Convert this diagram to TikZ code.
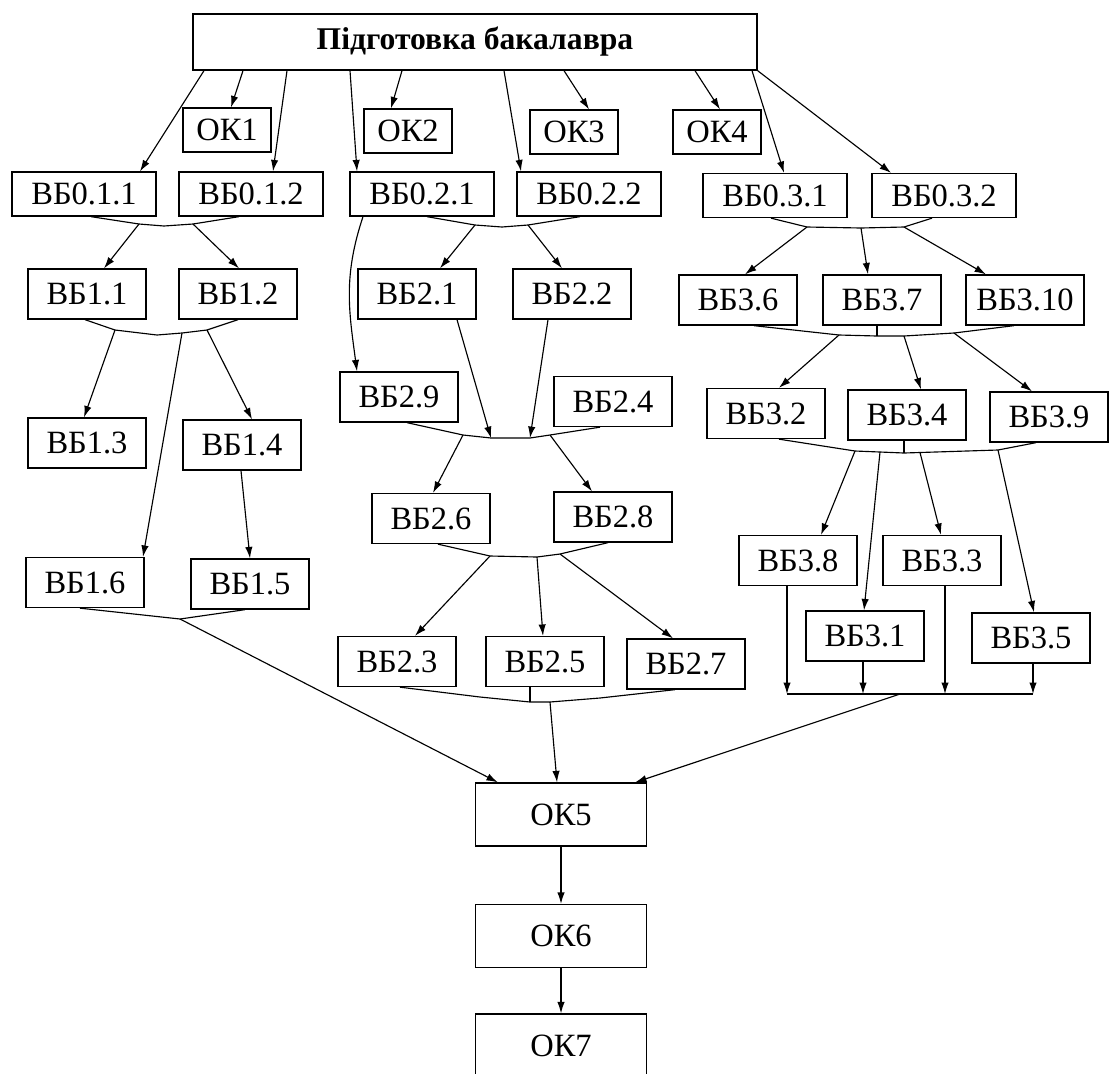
\documentclass[tikz,border=0pt]{standalone}
\usepackage{fontspec}
\setmainfont{Liberation Serif}
\usetikzlibrary{calc,arrows.meta}
\tikzset{
  blk/.style={draw, line width=0.75pt, inner sep=0pt, font=\fontsize{18.5}{20}\selectfont},
  vb/.style={blk, minimum width=2.36cm, minimum height=1cm},
  vbz/.style={blk, minimum width=2.88cm, minimum height=0.88cm},
  oks/.style={blk, minimum width=1.76cm, minimum height=0.88cm},
  okl/.style={blk, minimum width=3.42cm, minimum height=1.26cm},
  lnk/.style={line width=0.65pt, -{Latex[length=6.5pt,width=4.2pt]}},
  bar/.style={line width=0.65pt}
}

\begin{document}
\begin{tikzpicture}[x=0.02cm, y=-0.02cm]
\useasboundingbox (0,0) rectangle (1109,1073);
%%%%% START %%%%%
\node[blk, minimum width=11.28cm, minimum height=1.12cm, font=\bfseries\fontsize{18}{20}\selectfont] (top) at (475,42) {Підготовка бакалавра};

\node[oks] (ok1) at (227,130) {ОК1};
\node[oks] (ok2) at (408,131) {ОК2};
\node[oks] (ok3) at (574,132) {ОК3};
\node[oks] (ok4) at (717,132) {ОК4};

\node[vbz] (b011) at (84,194) {ВБ0.1.1};
\node[vbz] (b012) at (251,194) {ВБ0.1.2};
\node[vbz] (b021) at (422,194) {ВБ0.2.1};
\node[vbz] (b022) at (589,194) {ВБ0.2.2};
\node[vbz] (b031) at (775,195.5) {ВБ0.3.1};
\node[vbz] (b032) at (944,195.5) {ВБ0.3.2};

\node[vb] (b11) at (87,294) {ВБ1.1};
\node[vb] (b12) at (238,294) {ВБ1.2};
\node[vb] (b21) at (417,294) {ВБ2.1};
\node[vb] (b22) at (572,294) {ВБ2.2};
\node[vb] (b36) at (738,300) {ВБ3.6};
\node[vb] (b37) at (882,300) {ВБ3.7};
\node[vb] (b310) at (1025,300) {ВБ3.10};

\node[vb] (b29) at (399,397) {ВБ2.9};
\node[vb] (b24) at (613,401.5) {ВБ2.4};
\node[vb] (b32) at (766,413.5) {ВБ3.2};
\node[vb] (b34) at (907,415) {ВБ3.4};
\node[vb] (b39) at (1049,417) {ВБ3.9};
\node[vb] (b13) at (87,443) {ВБ1.3};
\node[vb] (b14) at (242,445) {ВБ1.4};

\node[vb] (b26) at (431,518.5) {ВБ2.6};
\node[vb] (b28) at (613,517) {ВБ2.8};
\node[vb] (b38) at (798,560.5) {ВБ3.8};
\node[vb] (b33) at (942,560.5) {ВБ3.3};
\node[vb] (b16) at (85,582.5) {ВБ1.6};
\node[vb] (b15) at (250,584) {ВБ1.5};
\node[vb] (b31) at (865,636) {ВБ3.1};
\node[vb] (b35) at (1031,638) {ВБ3.5};
\node[vb] (b23) at (397,661.5) {ВБ2.3};
\node[vb] (b25) at (545,661.5) {ВБ2.5};
\node[vb] (b27) at (686,664) {ВБ2.7};

\node[okl] (ok5) at (561,814.5) {ОК5};
\node[okl] (ok6) at (561,936) {ОК6};
\node[okl] (ok7) at (561,1045.5) {ОК7};

% from the top box
\draw[lnk] ($(top.south)+(-271,0)$) -- ($(b011.north)+(56,0)$);
\draw[lnk] ($(top.south)+(-232,0)$) -- ($(ok1.north)+(4,0)$);
\draw[lnk] ($(top.south)+(-188,0)$) -- ($(b012.north)+(22,0)$);
\draw[lnk] ($(top.south)+(-125,0)$) -- ($(b021.north)+(-65,0)$);
\draw[lnk] ($(top.south)+(-73,0)$) -- ($(ok2.north)+(-17,0)$);
\draw[lnk] ($(top.south)+(29,0)$) -- ($(b022.north)+(-68,0)$);
\draw[lnk] ($(top.south)+(89,0)$) -- ($(ok3.north)+(15,0)$);
\draw[lnk] ($(top.south)+(220,0)$) -- ($(ok4.north)+(3,0)$);
\draw[lnk] ($(top.south)+(277,0)$) -- ($(b031.north)+(9,0)$);
\draw[lnk] (top.south east) -- ($(b032.north)+(-53,0)$);

% block 1
\coordinate (j1a) at (139,224);
\coordinate (j1) at (164,226);
\coordinate (j1b) at (193,224);
\draw[bar] ($(b011.south)+(7,0)$) -- (j1a) -- (j1) -- (j1b) -- ($(b012.south)+(-12,0)$);
\draw[lnk] (j1a) -- ($(b11.north)+(17,0)$);
\draw[lnk] (j1b) -- ($(b12.north)+(1,0)$);

\coordinate (j6a) at (115,330);
\coordinate (j6) at (157,335);
\coordinate (j6b) at (182,333);
\coordinate (j6c) at (207,330);
\draw[bar] ($(b11.south)+(-2,0)$) -- (j6a) -- (j6) -- (j6b) -- (j6c) -- (b12.south);
\draw[lnk] (j6a) -- ($(b13.north)+(-3,0)$);
\draw[lnk] (j6b) -- ($(b16.north)+(58,0)$);
\draw[lnk] (j6c) -- ($(b14.north)+(10,0)$);
\draw[lnk] ($(b14.south)+(-1,0)$) -- (b15.north);

\coordinate (j7) at (180,619);
\draw[bar] ($(b16.south)+(-5,0)$) -- (j7) -- ($(b15.south)+(-5,0)$);
\draw[lnk] (j7) -- ($(ok5.north west)+(23,0)$);

% block 2
\coordinate (j2a) at (475,225);
\coordinate (j2) at (502,227);
\coordinate (j2b) at (528,225);
\draw[bar] ($(b021.south)+(5,0)$) -- (j2a) -- (j2) -- (j2b) -- ($(b022.south)+(-9,0)$);
\draw[lnk] (j2a) -- ($(b21.north)+(23,0)$);
\draw[lnk] (j2b) -- ($(b22.north)+(-10,0)$);
\draw[lnk] ($(b021.south)+(-59,0)$) .. controls +(-20,60) and +(-8,-60) .. ($(b29.north)+(-42,0)$);

\coordinate (j3a) at (463,435);
\coordinate (j3c) at (491,438);
\coordinate (j3d) at (530,438);
\coordinate (j3b) at (550,435);
\draw[bar] ($(b29.south)+(8,0)$) -- (j3a) -- (j3c) -- (j3d) -- (j3b) -- ($(b24.south)+(-13,0)$);
\draw[lnk] ($(b21.south)+(40,0)$) -- (j3c);
\draw[lnk] ($(b22.south)+(-24,0)$) -- (j3d);
\draw[lnk] (j3a) -- ($(b26.north)+(2,0)$);
\draw[lnk] (j3b) -- ($(b28.north)+(-21,0)$);

\coordinate (j4a) at (490,556);
\coordinate (j4b) at (537,557);
\coordinate (j4c) at (560,554);
\draw[bar] ($(b26.south)+(7,0)$) -- (j4a) -- (j4b) -- (j4c) -- ($(b28.south)+(-5,0)$);
\draw[lnk] (j4a) -- ($(b23.north)+(18,0)$);
\draw[lnk] (j4b) -- ($(b25.north)+(-2,0)$);
\draw[lnk] (j4c) -- ($(b27.north)+(-13,0)$);

\coordinate (j5a) at (480,697);
\coordinate (j5) at (530,702);
\coordinate (j5b) at (550,702);
\coordinate (j5c) at (600,698);
\draw[bar] ($(b23.south)+(3,0)$) -- (j5a) -- (j5) -- (j5b) -- (j5c) -- ($(b27.south)+(-11,0)$);
\draw[bar] ($(b25.south)+(-15,0)$) -- (j5);
\draw[lnk] (j5b) -- ($(ok5.north)+(-4,0)$);

% block 3
\coordinate (j8a) at (807,227);
\coordinate (j8) at (861,228);
\coordinate (j8b) at (904,227);
\draw[bar] ($(b031.south)+(-4,0)$) -- (j8a) -- (j8) -- (j8b) -- ($(b032.south)+(-12,0)$);
\draw[lnk] (j8a) -- ($(b36.north)+(7,0)$);
\draw[lnk] (j8) -- ($(b37.north)+(-14,0)$);
\draw[lnk] (j8b) -- ($(b310.north)+(-39,0)$);

\coordinate (j9a) at (839,335);
\coordinate (j9) at (877,336);
\coordinate (j9b) at (904,336);
\coordinate (j9c) at (954,333);
\draw[bar] ($(b36.south)+(16,0)$) -- (j9a) -- (j9) -- (j9b) -- (j9c) -- ($(b310.south)+(-11,0)$);
\draw[bar] ($(b37.south)+(-5,0)$) -- (j9);
\draw[lnk] (j9a) -- ($(b32.north)+(13,0)$);
\draw[lnk] (j9b) -- ($(b34.north)+(14,0)$);
\draw[lnk] (j9c) -- ($(b39.north)+(-17,0)$);

\coordinate (j10a) at (855,451);
\coordinate (j10b) at (880,452);
\coordinate (j10) at (904,453);
\coordinate (j10c) at (920,452.5);
\coordinate (j10d) at (998,450);
\draw[bar] ($(b32.south)+(13,0)$) -- (j10a) -- (j10b) -- (j10) -- (j10c) -- (j10d) -- ($(b39.south)+(-13,0)$);
\draw[bar] ($(b34.south)+(-3,0)$) -- (j10);
\draw[lnk] (j10a) -- ($(b38.north)+(23,0)$);
\draw[lnk] (j10b) -- ($(b31.north)+(-1,0)$);
\draw[lnk] (j10c) -- ($(b33.north)+(-1,0)$);
\draw[lnk] (j10d) -- ($(b35.north)+(3,0)$);

\coordinate (k1) at (787,694);
\coordinate (k2) at (863,694);
\coordinate (k) at (900,694);
\coordinate (k3) at (945,694);
\coordinate (k4) at (1033,694);
\draw[bar] (k1) -- (k4);
\draw[lnk] ($(b38.south)+(-11,0)$) -- (k1);
\draw[lnk] ($(b31.south)+(-2,0)$) -- (k2);
\draw[lnk] ($(b33.south)+(3,0)$) -- (k3);
\draw[lnk] ($(b35.south)+(2,0)$) -- (k4);
\draw[lnk] (k) -- ($(ok5.north east)+(-12,0)$);

% bottom
\draw[lnk] (ok5) -- (ok6);
\draw[lnk] (ok6) -- (ok7);
%%%%% END %%%%%
\end{tikzpicture}
\end{document}
